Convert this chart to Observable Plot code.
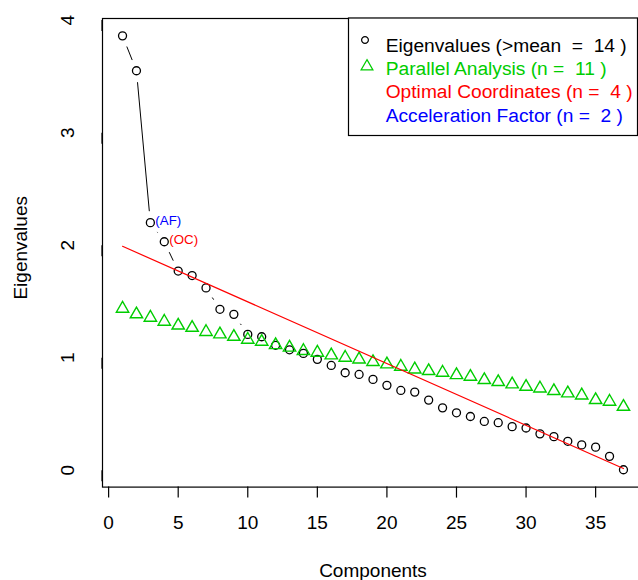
<!DOCTYPE html>
<html><head><meta charset="utf-8">
<script src="https://cdn.jsdelivr.net/npm/d3@7"></script>
<script src="https://cdn.jsdelivr.net/npm/@observablehq/plot@0.6"></script>
<style>
html,body{margin:0;padding:0;overflow:hidden;background:#fff}
#chart{width:638px;height:580px;overflow:hidden;position:relative}
#chart svg{font-family:"Liberation Sans",Arial,sans-serif;white-space:pre;color:#000;display:block}
</style></head><body><div id="chart"></div>
<script>
// ---- data ----
const components = d3.range(1, 38);
const eigenvalues = [3.86,3.55,2.20,2.03,1.77,1.73,1.62,1.43,1.385,1.207,1.186,1.11,1.07,1.038,0.985,0.931,0.866,0.851,0.807,0.754,0.709,0.694,0.623,0.554,0.51,0.477,0.433,0.422,0.387,0.375,0.323,0.298,0.257,0.225,0.205,0.123,0.004];
const parallel = [1.436,1.386,1.356,1.32,1.286,1.266,1.229,1.208,1.186,1.16,1.142,1.112,1.09,1.06,1.045,1.021,1.0,0.985,0.962,0.941,0.92,0.896,0.882,0.867,0.846,0.831,0.802,0.784,0.763,0.742,0.727,0.704,0.683,0.665,0.624,0.609,0.564];
const ocLineX = [1, 37];
const ocLineY = [1.99, 0.015];
const pointLabels = ["(AF)", "(OC)"];
const pointLabelAt = [3, 4];
const pointLabelColors = ["#0000ff", "#ff0000"];
const xTicks = [0, 5, 10, 15, 20, 25, 30, 35];
const yTicks = [0, 1, 2, 3, 4];
const legendLabels = ["Eigenvalues (>mean  =  14 )", "Parallel Analysis (n =  11 )", "Optimal Coordinates (n =  4 )", "Acceleration Factor (n =  2 )"];
const legendColors = ["#000000", "#00cd00", "#ff0000", "#0000ff"];
const legendSymbols = ["circle", "triangle", null, null];

// ---- tables ----
const eigRows = components.map((c, i) => ({c, v: eigenvalues[i]}));
const paRows = components.map((c, i) => ({c, v: parallel[i]}));
const ocRows = ocLineX.map((x, i) => ({x, y: ocLineY[i]}));
const labRows = pointLabels.map((t, i) => ({t, c: pointLabelAt[i], v: eigenvalues[pointLabelAt[i] - 1], col: pointLabelColors[i]}));

// ---- layout ----
const W = 643, H = 580, mL = 102, mR = 0, mT = 18, mB = 93.4;
const pad = (e) => { const s = e[1] - e[0]; return [e[0] - 0.04 * s, e[1] + 0.04 * s]; };
const xDom = pad(d3.extent(components));
const yDom = pad(d3.extent(eigenvalues.concat(parallel)));
const kx = (W - mL - mR) / (xDom[1] - xDom[0]);
const ky = (H - mT - mB) / (yDom[1] - yDom[0]);

// type "b" line segments with gaps around points
const gap = 11.5;
const segs = [];
for (let i = 0; i < eigRows.length - 1; i++) {
  const a = eigRows[i], b = eigRows[i + 1];
  const dx = (b.c - a.c) * kx, dy = (b.v - a.v) * ky, d = Math.hypot(dx, dy);
  if (d > 2 * gap) {
    const f = gap / d;
    segs.push({x1: a.c + (b.c - a.c) * f, y1: a.v + (b.v - a.v) * f, x2: b.c - (b.c - a.c) * f, y2: b.v - (b.v - a.v) * f});
  }
}

const chart = Plot.plot({
  width: W, height: H, marginLeft: mL, marginRight: mR, marginTop: mT, marginBottom: mB,
  x: {domain: xDom, axis: null},
  y: {domain: yDom, axis: null},
  style: {fontFamily: '"Liberation Sans", Arial, sans-serif', color: "#000", background: "#fff", maxWidth: "none"},
  marks: [
    Plot.frame({stroke: "#000", strokeWidth: 1.2}),
    Plot.axisX({ticks: xTicks, tickFormat: d3.format("d"), tickSize: 11, tickPadding: 17, fontSize: 19, label: null, strokeWidth: 1.2}),
    Plot.axisY({ticks: yTicks, tickFormat: d3.format("d"), tickSize: 11, tickPadding: 24, rotate: -90, textAnchor: "middle", fontSize: 19, label: null, strokeWidth: 1.2}),
    Plot.text(["Components"], {frameAnchor: "bottom", lineAnchor: "middle", textAnchor: "middle", dy: 84, fontSize: 19, fill: "#000"}),
    Plot.text(["Eigenvalues"], {frameAnchor: "left", lineAnchor: "middle", textAnchor: "middle", dx: -82, dy: -5, rotate: -90, fontSize: 19, fill: "#000"}),
    Plot.link(segs, {x1: "x1", y1: "y1", x2: "x2", y2: "y2", stroke: "#000", strokeWidth: 1}),
    Plot.dot(eigRows, {x: "c", y: "v", r: 4, stroke: "#000", strokeWidth: 1.3, fill: "none"}),
    Plot.dot(paRows, {x: "c", y: "v", r: 4.6, symbol: "triangle", stroke: "#00cd00", strokeWidth: 1.4, fill: "none"}),
    Plot.line(ocRows, {x: "x", y: "y", stroke: "#ff0000", strokeWidth: 1.2}),
    Plot.text(labRows, {x: "c", y: "v", text: "t", fill: "col", textAnchor: "start", dx: 5, dy: -2.4, fontSize: 13.3})
  ]
});
document.getElementById("chart").append(chart);

// ---- legend (inside the plot, top-right) ----
const svg = d3.select(chart);
const lg = svg.append("g").attr("text-anchor", "start");
lg.append("rect").attr("x", 348.5).attr("y", 18).attr("width", 289).attr("height", 117.5)
  .attr("fill", "#fff").attr("stroke", "#000").attr("stroke-width", 1.2);
legendLabels.forEach((t, i) => {
  const cy = 45.6 + 23.3 * i;
  lg.append("text").attr("x", 385.7).attr("y", cy).attr("dy", "0.32em")
    .attr("text-anchor", "start").attr("font-size", 19.2).attr("fill", legendColors[i]).text(t);
  if (legendSymbols[i]) {
    const isC = legendSymbols[i] === "circle";
    const r = isC ? 3.4 : 4.4;
    lg.append("path").attr("d", d3.symbol(isC ? d3.symbolCircle : d3.symbolTriangle, Math.PI * r * r)())
      .attr("transform", `translate(${isC ? 365 : 367},${isC ? 40 : 66.5})`)
      .attr("fill", "none").attr("stroke", legendColors[i]).attr("stroke-width", 1.2);
  }
});
</script></body></html>
